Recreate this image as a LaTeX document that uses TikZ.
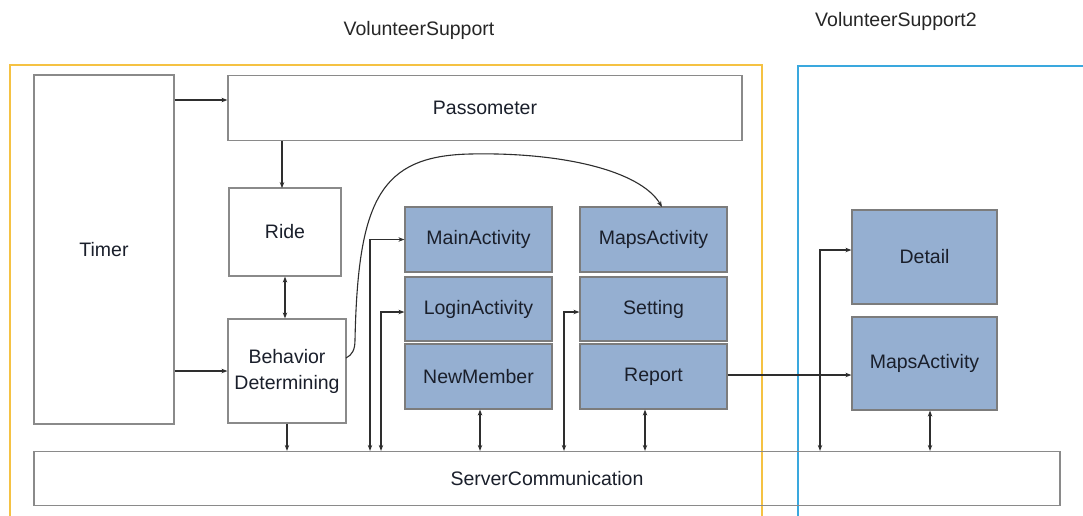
\documentclass[tikz,border=0pt]{standalone}
\usepackage{fontspec}
\setmainfont{Liberation Sans}
\usetikzlibrary{arrows.meta}
\definecolor{frameorange}{HTML}{F5C243}
\definecolor{frameblue}{HTML}{3AA8DE}
\definecolor{boxgray}{HTML}{8A8A8A}
\definecolor{boxfill}{HTML}{95AFD1}
\definecolor{linedark}{HTML}{2E2E2E}
\definecolor{textdark}{HTML}{1A1F2B}
\tikzset{
  plainbox/.style={draw=boxgray, line width=1.2pt, inner sep=0pt, align=center,
    font=\fontsize{19.5}{26}\selectfont, text=textdark},
  bluebox/.style={plainbox, fill=boxfill, draw=boxgray!90!black},
  arr/.style={draw=linedark, line width=1.1pt, -{Stealth[length=6pt,width=4.5pt]}},
  dbl/.style={draw=linedark, line width=1.1pt, {Stealth[length=6pt,width=4.5pt]}-{Stealth[length=6pt,width=4.5pt]}},
  frametitle/.style={font=\fontsize{19.5}{23}\selectfont, text=black!85},
}
\begin{document}
\begin{tikzpicture}[x=1pt,y=-1pt]
\useasboundingbox (0,0) rectangle (1083,515);
\fill[white] (0,0) rectangle (1083,515);
% frames
\draw[frameorange, line width=2.5pt] (10,516) -- (10,65) -- (762,65) -- (762,516);
\draw[frameblue, line width=2.5pt] (798,516) -- (798,66) -- (1084,66);
\node[frametitle] (t1) at (419,30) {VolunteerSupport};
\node[frametitle] (t2) at (896,21) {VolunteerSupport2};
% boxes
\node[plainbox, minimum width=140pt, minimum height=349pt] (Timer) at (104,249.5) {Timer};
\node[plainbox, minimum width=514pt, minimum height=65pt] (Pass) at (485,108) {Passometer};
\node[plainbox, minimum width=112pt, minimum height=88pt] (Ride) at (285,232) {Ride};
\node[plainbox, minimum width=118pt, minimum height=104pt] (Beh) at (287,371) {Behavior\\Determining};
\node[plainbox, minimum width=1026pt, minimum height=54pt] (Server) at (547,478.5) {ServerCommunication};
\node[bluebox, minimum width=147pt, minimum height=65pt] (Main) at (478.5,239.5) {MainActivity};
\node[bluebox, minimum width=147pt, minimum height=64pt] (Login) at (478.5,309) {LoginActivity};
\node[bluebox, minimum width=147pt, minimum height=65pt] (NewM) at (478.5,376.5) {NewMember};
\node[bluebox, minimum width=147pt, minimum height=65pt] (Maps) at (653.5,239.5) {MapsActivity};
\node[bluebox, minimum width=147pt, minimum height=64pt] (Setting) at (653.5,309) {Setting};
\node[bluebox, minimum width=147pt, minimum height=65pt] (Report) at (653.5,376.5) {Report};
\node[bluebox, minimum width=145pt, minimum height=94pt] (Detail) at (924.5,257) {Detail};
\node[bluebox, minimum width=145pt, minimum height=93pt] (Maps2) at (924.5,363.5) {MapsActivity};
% helper coordinates
\coordinate (ytp) at (0,100);
\coordinate (xmain) at (370,0);
\coordinate (xlogin) at (381,0);
\coordinate (ylogin) at (0,312);
\coordinate (xset) at (564,0);
\coordinate (xnew) at (480,0);
\coordinate (xrep) at (645,0);
\coordinate (xdet) at (820,0);
\coordinate (ydet) at (0,250);
\coordinate (yrep) at (0,375);
\coordinate (xm2) at (930,0);
\coordinate (cstart) at (346,358);
\coordinate (cend) at (662,207);
% connectors
\draw[arr] (ytp -| Timer.east) -- (ytp -| Pass.west);
\draw[arr] (Beh.west -| Timer.east) -- (Beh.west);
\draw[arr] (Ride.north |- Pass.south) ++(-3,0) -- ++(0,47);
\draw[dbl] (Ride.south) -- (Beh.north -| Ride.south);
\draw[arr] (Beh.south) -- (Beh.south |- Server.north);
\draw[dbl] (Server.north -| xmain) |- (Main.west);
\draw[dbl] (Server.north -| xlogin) |- (ylogin -| Login.west);
\draw[dbl] (Server.north -| xset) |- (ylogin -| Setting.west);
\draw[dbl] (NewM.south -| xnew) -- (Server.north -| xnew);
\draw[dbl] (Report.south -| xrep) -- (Server.north -| xrep);
\draw[dbl] (Server.north -| xdet) |- (ydet -| Detail.west);
\draw[dbl] (Maps2.south -| xm2) -- (Server.north -| xm2);
\draw[arr] (yrep -| Report.east) -- (yrep -| Maps2.west);
\draw[arr] (cstart) .. controls (352,355) and (355,350) .. (355,340)
  .. controls (358,200) and (380,156) .. (470,154)
  .. controls (560,152) and (640,170) .. (cend);
\end{tikzpicture}
\end{document}
